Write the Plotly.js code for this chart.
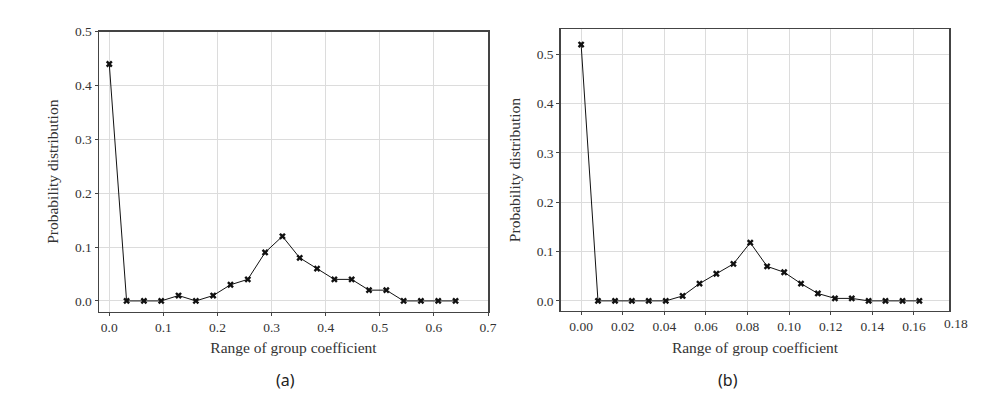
<!DOCTYPE html>
<html><head><meta charset="utf-8">
<script src="https://cdn.plot.ly/plotly-3.0.1.min.js"></script>
<style>html,body{margin:0;padding:0;background:#fff}#chart{width:999px;height:405px}</style>
</head><body><div id="chart"></div>
<script>
// Panel (a)
const xA = [0, 0.032, 0.064, 0.096, 0.128, 0.16, 0.192, 0.224, 0.256, 0.288, 0.32, 0.352, 0.384, 0.416, 0.448, 0.48, 0.512, 0.544, 0.576, 0.608, 0.64];
const yA = [0.44, 0, 0, 0, 0.01, 0, 0.01, 0.03, 0.04, 0.09, 0.12, 0.08, 0.06, 0.04, 0.04, 0.02, 0.02, 0, 0, 0, 0];
// Panel (b)
const xB = [0, 0.0081, 0.0163, 0.0244, 0.0325, 0.0407, 0.0488, 0.0569, 0.065, 0.0732, 0.0813, 0.0894, 0.0976, 0.1057, 0.1138, 0.122, 0.1301, 0.1382, 0.1463, 0.1545, 0.1626];
const yB = [0.52, 0, 0, 0, 0, 0, 0.01, 0.035, 0.055, 0.075, 0.118, 0.07, 0.058, 0.035, 0.015, 0.005, 0.005, 0, 0, 0, 0];
const xTitle = "Range of group coefficient";
const yTitle = "Probability distribution";
const panelLabels = ["(a)", "(b)"];
const xTicksA = [0, 0.1, 0.2, 0.3, 0.4, 0.5, 0.6, 0.7];
const xTickTextA = ["0.0", "0.1", "0.2", "0.3", "0.4", "0.5", "0.6", "0.7"];
const xTicksB = [0, 0.02, 0.04, 0.06, 0.08, 0.1, 0.12, 0.14, 0.16];
const xTickTextB = ["0.00", "0.02", "0.04", "0.06", "0.08", "0.10", "0.12", "0.14", "0.16"];
const yTicks = [0, 0.1, 0.2, 0.3, 0.4, 0.5];
const yTickText = ["0.0", "0.1", "0.2", "0.3", "0.4", "0.5"];

const FAM = "Liberation Serif";
function tf() { return {family: FAM, size: 13.5, color: "#333333"}; }
function ttf() { return {family: FAM, size: 15.5, color: "#333333"}; }
const lineStyle = {color: "#111", width: 1};
const markerStyle = {symbol: "x", size: 6, color: "#111"};

const traces = [
  {x: xA, y: yA, xaxis: "x", yaxis: "y", mode: "lines+markers", line: lineStyle, marker: markerStyle, cliponaxis: false},
  {x: xB, y: yB, xaxis: "x2", yaxis: "y2", mode: "lines+markers", line: lineStyle, marker: markerStyle, cliponaxis: false}
];

function ax(extra) {
  return Object.assign({
    showgrid: true, gridcolor: "#dcdcdc", gridwidth: 1,
    zeroline: false, showline: true, linecolor: "#444", linewidth: 1.5, mirror: true,
    ticks: "outside", ticklen: 3, tickcolor: "#444", tickwidth: 1,
    tickfont: tf(), automargin: false
  }, extra);
}

const xBmin = -0.0098, xBmax = 0.177;

const layout = {
  width: 999, height: 405,
  margin: {l: 0, r: 0, t: 0, b: 0},
  paper_bgcolor: "#fff", plot_bgcolor: "#fff",
  showlegend: false,
  font: {family: FAM, size: 13.5, color: "#333333"},
  xaxis: ax({domain: [0.0991, 0.4885], anchor: "y", range: [-0.019, 0.7], tickvals: xTicksA, ticktext: xTickTextA,
    title: {text: xTitle, font: ttf(), standoff: 8}}),
  yaxis: ax({domain: [0.2304, 0.9217], anchor: "x", range: [-0.02, 0.5], tickvals: yTicks, ticktext: yTickText,
    title: {text: yTitle, font: ttf(), standoff: 12}}),
  xaxis2: ax({domain: [0.5613, 0.9503], anchor: "y2", range: [xBmin, xBmax], tickvals: xTicksB, ticktext: xTickTextB,
    title: {text: xTitle, font: ttf(), standoff: 8}}),
  yaxis2: ax({domain: [0.2328, 0.9277], anchor: "x2", range: [-0.02, 0.551], tickvals: yTicks, ticktext: yTickText,
    title: {text: yTitle, font: ttf(), standoff: 12}}),
  annotations: [
    {text: "0.18", xref: "paper", yref: "paper",
     x: 0.5613 + (0.18 - xBmin) / (xBmax - xBmin) * (0.9503 - 0.5613), y: 0.2328, yshift: -3,
     xanchor: "center", yanchor: "top", showarrow: false, font: tf()},
    {text: panelLabels[0], xref: "paper", yref: "paper", x: 0.2855, y: 0.062, xanchor: "center", yanchor: "middle", showarrow: false,
     font: {family: "Noto Sans", size: 16, color: "#222"}},
    {text: panelLabels[1], xref: "paper", yref: "paper", x: 0.7285, y: 0.062, xanchor: "center", yanchor: "middle", showarrow: false,
     font: {family: "Noto Sans", size: 16, color: "#222"}}
  ]
};

Plotly.newPlot("chart", traces, layout, {displayModeBar: false, staticPlot: true});
</script>
</body></html>
